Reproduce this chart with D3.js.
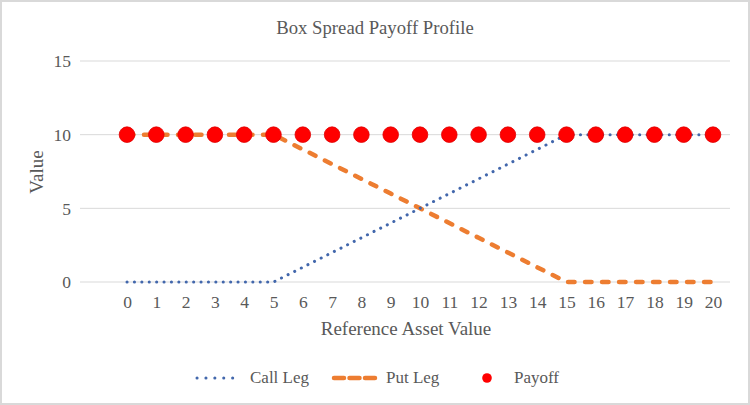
<!DOCTYPE html>
<html>
<head>
<meta charset="utf-8">
<script src="https://cdn.jsdelivr.net/npm/d3@7"></script>
<style>
  body { margin: 0; background: #fff; }
</style>
</head>
<body>
<div id="chart"></div>
<script>
// chart data
var assetValues = [0, 1, 2, 3, 4, 5, 6, 7, 8, 9, 10, 11, 12, 13, 14, 15, 16, 17, 18, 19, 20];
var callLeg = [0, 0, 0, 0, 0, 0, 1, 2, 3, 4, 5, 6, 7, 8, 9, 10, 10, 10, 10, 10, 10];
var putLeg = [10, 10, 10, 10, 10, 10, 9, 8, 7, 6, 5, 4, 3, 2, 1, 0, 0, 0, 0, 0, 0];
var payoff = [10, 10, 10, 10, 10, 10, 10, 10, 10, 10, 10, 10, 10, 10, 10, 10, 10, 10, 10, 10, 10];
var yTicks = [0, 5, 10, 15];

var svgWidth = 750;
var svgHeight = 405;
var fontFam = "'Liberation Serif'";
var textColor = "#595959";
var callColor = "#4267ac", putColor = "#ED7D31", payoffColor = "#ff0000";
var callDash = "0.1,7.3", putDash = "6.5,10.5";

var svg = d3.select("#chart")
  .append("svg")
  .attr("width", svgWidth)
  .attr("height", svgHeight);

// outer frame
svg.append("rect")
  .attr("x", 1).attr("y", 1)
  .attr("width", svgWidth - 2).attr("height", svgHeight - 2)
  .attr("fill", "#fff")
  .attr("stroke", "#d9d9d9")
  .attr("stroke-width", 2);

// scales
var x = d3.scaleLinear().domain([0, 20]).range([127, 713]);
var y = d3.scaleLinear().domain([0, 15]).range([282, 61]);
var gridLeft = 80, gridRight = 730;

// gridlines
svg.append("g").selectAll("line")
  .data(yTicks)
  .enter()
  .append("line")
  .attr("x1", gridLeft).attr("x2", gridRight)
  .attr("y1", d => y(d)).attr("y2", d => y(d))
  .attr("stroke", "#d9d9d9")
  .attr("stroke-width", 1);

// y axis labels
var leftAxis = d3.axisLeft(y).tickValues(yTicks).tickSize(0).tickPadding(0);
var yAxis = svg.append("g")
  .attr("transform", "translate(71,0)")
  .call(leftAxis);
yAxis.select(".domain").remove();
yAxis.selectAll("text")
  .attr("dy", "0.34em")
  .attr("fill", textColor)
  .style("font-family", fontFam)
  .style("font-size", "17.5px");

// x axis labels
var bottomAxis = d3.axisBottom(x).tickValues(assetValues).tickFormat(d3.format("d")).tickSize(0).tickPadding(0);
var xAxis = svg.append("g")
  .attr("transform", "translate(0,308)")
  .call(bottomAxis);
xAxis.select(".domain").remove();
xAxis.selectAll("text")
  .attr("y", 0)
  .attr("dy", 0)
  .attr("fill", textColor)
  .style("font-family", fontFam)
  .style("font-size", "17.5px");

// lines
var line = d3.line()
  .x((d, i) => x(assetValues[i]))
  .y(d => y(d));

svg.append("path")
  .datum(putLeg)
  .attr("d", line)
  .attr("fill", "none")
  .attr("stroke", putColor)
  .attr("stroke-width", 4.5)
  .attr("stroke-linecap", "round")
  .attr("stroke-dasharray", putDash);

svg.append("path")
  .datum(callLeg)
  .attr("d", line)
  .attr("fill", "none")
  .attr("stroke", callColor)
  .attr("stroke-width", 3)
  .attr("stroke-linecap", "round")
  .attr("stroke-dasharray", callDash);

svg.append("g").selectAll("circle")
  .data(payoff)
  .enter()
  .append("circle")
  .attr("cx", (d, i) => x(assetValues[i]))
  .attr("cy", d => y(d))
  .attr("r", 7.8)
  .attr("fill", payoffColor)
  .attr("stroke", "#e00000")
  .attr("stroke-width", 0.8);

// titles
function addText(g, tx, ty, size, label, anchor) {
  return g.append("text")
    .attr("x", tx).attr("y", ty)
    .attr("text-anchor", anchor || "middle")
    .attr("fill", textColor)
    .style("font-family", fontFam)
    .style("font-size", size + "px")
    .text(label);
}

addText(svg, 375, 34, 18.7, "Box Spread Payoff Profile");
addText(svg, 406, 335, 19, "Reference Asset Value");
addText(svg, 0, 0, 19, "Value")
  .attr("transform", "translate(43,172) rotate(-90)");

// legend
var legend = svg.append("g").attr("transform", "translate(0,378)");

legend.append("line")
  .attr("x1", 197).attr("x2", 241).attr("y1", 0).attr("y2", 0)
  .attr("stroke", callColor).attr("stroke-width", 3)
  .attr("stroke-linecap", "round").attr("stroke-dasharray", "0.1,8.8");
addText(legend, 250, 5, 17, "Call Leg", "start");

legend.append("line")
  .attr("x1", 334).attr("x2", 375).attr("y1", 0).attr("y2", 0)
  .attr("stroke", putColor).attr("stroke-width", 4.5)
  .attr("stroke-linecap", "round").attr("stroke-dasharray", "10,5.5");
addText(legend, 386, 5, 17, "Put Leg", "start");

legend.append("circle")
  .attr("cx", 487).attr("cy", 0).attr("r", 4.8)
  .attr("fill", payoffColor);
addText(legend, 514, 5, 17, "Payoff", "start");
</script>
</body>
</html>
